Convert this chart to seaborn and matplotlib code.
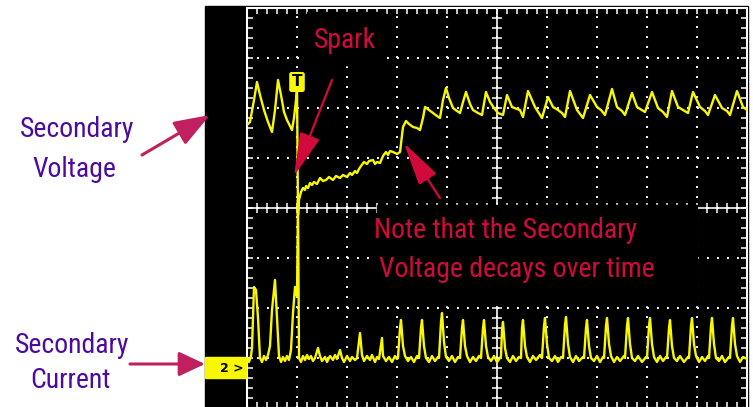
import numpy as np
import pandas as pd
import matplotlib
matplotlib.use('Agg')
import matplotlib.pyplot as plt
from matplotlib import font_manager
from matplotlib.patches import Rectangle
from matplotlib.ticker import MultipleLocator, NullFormatter
import seaborn as sns

# scope screen: 10 x 8 divisions, 50 counts per division
# (t, level) vertices
voltage_pts = [
    (0, 283), (3, 286), (7, 308), (10, 326), (13, 313), (17, 298), (21, 286), (25, 276),
    (28, 298), (31, 328), (34, 313), (37, 296), (40, 288), (43, 282), (45, 278), (47, 290),
    (49, 308), (50, 320), (51, 193), (52, 208), (54, 216), (56, 220), (58, 218), (59, 222),
    (61, 220), (63, 225), (65, 223), (67, 226), (70, 224), (73, 230), (76, 227), (79, 228),
    (82, 231), (86, 228), (89, 232), (93, 230), (96, 233), (100, 231), (103, 235), (105, 233),
    (108, 237), (110, 235), (112, 239), (114, 242), (117, 246), (120, 244), (122, 247),
    (126, 248), (128, 244), (130, 246), (133, 245), (136, 252), (139, 256), (141, 253),
    (143, 257), (146, 256), (150, 254), (153, 256), (156, 281), (159, 287), (162, 284),
    (166, 281), (170, 280), (173, 278), (176, 290), (178, 301), (182, 298), (186, 295),
    (190, 292), (193, 290), (196, 308), (199, 320), (202, 310), (206, 300), (210, 297),
    (213, 295), (216, 306), (219, 316), (223, 304), (226, 298), (231, 295), (235, 293),
    (239, 316), (243, 306), (247, 300), (251, 295), (256, 293), (260, 313), (265, 301),
    (270, 299), (273, 298), (276, 291), (281, 317), (288, 301), (295, 290), (301, 311),
    (306, 301), (311, 298), (315, 295), (318, 291), (323, 317), (330, 298), (336, 290),
    (343, 313), (350, 301), (354, 298), (358, 293), (365, 319), (370, 301), (375, 297),
    (378, 293), (385, 315), (390, 301), (398, 296), (405, 316), (411, 300), (416, 296),
    (420, 291), (425, 317), (431, 301), (436, 298), (441, 295), (446, 316), (453, 301),
    (458, 297), (461, 293), (468, 313), (475, 300), (480, 297), (483, 293), (490, 317),
    (496, 301), (500, 298),
]

current_pts = [
    (0, 50), (2, 46), (4, 52), (5, 60), (7, 121), (9, 118), (11, 90), (13, 50), (15, 46),
    (17, 52), (19, 48), (21, 53), (23, 62), (25, 98), (28, 128), (30, 90), (32, 52),
    (34, 46), (36, 51), (38, 47), (40, 52), (42, 48), (44, 58), (46, 95), (48, 121),
    (50, 112), (51, 208), (52, 50), (54, 46), (56, 52), (58, 48), (60, 53), (62, 49),
    (64, 52), (66, 47), (68, 50), (71, 60), (73, 52), (75, 47), (78, 51), (80, 46),
    (83, 52), (86, 48), (88, 53), (90, 49), (93, 58), (95, 50), (97, 46), (100, 52),
    (103, 47), (105, 51), (108, 48), (110, 50), (113, 75), (115, 53), (117, 47), (120, 52),
    (123, 48), (125, 53), (128, 46), (130, 51), (132, 49), (135, 70), (136, 52), (139, 47),
    (142, 51), (145, 46), (148, 52), (150, 49),
    (151, 50), (153, 80), (154, 88), (156, 62), (158, 52), (161, 47), (164, 51), (167, 46), (170, 52),
    (172, 50), (174, 80), (175, 88), (177, 62), (179, 50), (182, 46), (185, 52), (188, 47), (191, 51),
    (192, 50), (194, 86), (195, 95), (197, 66), (199, 51), (202, 47), (205, 52), (208, 46), (211, 51),
    (213, 50), (215, 80), (216, 88), (218, 62), (220, 52), (223, 46), (226, 51), (229, 47), (232, 52),
    (234, 50), (236, 80), (237, 88), (239, 62), (241, 51), (244, 47), (247, 52), (250, 46), (253, 50),
    (254, 52), (255, 78), (256, 86), (258, 60), (260, 50), (263, 46), (266, 52), (269, 47), (272, 51),
    (274, 50), (275, 80), (276, 88), (278, 62), (280, 51), (283, 46), (286, 52), (289, 48), (293, 53),
    (295, 50), (297, 82), (298, 90), (300, 64), (302, 50), (305, 47), (308, 52), (311, 46), (314, 51),
    (316, 50), (318, 83), (319, 91), (321, 64), (323, 51), (326, 46), (329, 52), (332, 47), (336, 51),
    (337, 50), (339, 80), (340, 88), (342, 62), (344, 50), (347, 47), (350, 52), (353, 46), (356, 51),
    (357, 50), (359, 82), (360, 90), (362, 64), (364, 52), (367, 46), (370, 51), (373, 47), (377, 52),
    (378, 50), (380, 82), (381, 90), (383, 64), (385, 50), (388, 47), (391, 52), (395, 46), (399, 51),
    (400, 50), (402, 82), (403, 90), (405, 64), (407, 51), (410, 46), (413, 52), (416, 47), (419, 51),
    (420, 50), (422, 80), (423, 88), (425, 62), (427, 50), (430, 47), (433, 52), (437, 46), (441, 51),
    (442, 50), (444, 82), (445, 90), (447, 64), (449, 52), (452, 46), (455, 51), (458, 47), (461, 52),
    (462, 50), (464, 82), (465, 90), (467, 64), (469, 50), (472, 47), (475, 52), (478, 46), (482, 51),
    (483, 50), (485, 82), (486, 90), (488, 64), (490, 52), (493, 46), (496, 51), (500, 49),
]

df_v = pd.DataFrame(voltage_pts, columns=['t', 'level'])
df_c = pd.DataFrame(current_pts, columns=['t', 'level'])

yellow = '#f8f800'
purple = '#4b0c9e'
red = '#d20a3c'
magenta = '#c0205f'

# the labels are in a narrow Arial-like face; take a condensed one if there is one
installed = {f.name for f in font_manager.fontManager.ttflist}
narrow = [n for n in ['Liberation Sans Narrow', 'Roboto Condensed', 'Open Sans Condensed',
                      'Arial Narrow'] if n in installed]
if narrow:
    lab_font = dict(family=[narrow[0], 'DejaVu Sans'], fontsize=20)
else:
    lab_font = dict(family=['Liberation Sans', 'DejaVu Sans'], fontsize=17.5)

W, H = 753, 407
fig = plt.figure(figsize=(W / 100, H / 100), dpi=100, facecolor='white')

# black scope screen
fig.add_artist(Rectangle((205 / W, 0), 543 / W, 401 / H, transform=fig.transFigure,
                         color='black', zorder=0))

pos = [247 / W, (H - 408) / H, 500 / W, 400 / H]

# grid + frame
ax = fig.add_axes(pos, zorder=1)
ax.set_facecolor('none')
ax.set_xlim(0, 500)
ax.set_ylim(0, 400)
ax.xaxis.set_major_locator(MultipleLocator(50))
ax.yaxis.set_major_locator(MultipleLocator(50))
ax.xaxis.set_minor_locator(MultipleLocator(10))
ax.yaxis.set_minor_locator(MultipleLocator(10))
for s in ax.spines.values():
    s.set_color('white')
    s.set_linewidth(1.5)
ax.tick_params(which='both', direction='in', length=4, width=1.1, color='white',
               top=True, right=True, labelleft=False, labelbottom=False)
ax.grid(which='major', color='white', lw=1.5, ls=(0, (0.9, 3.9)))

# centre cross with tick marks
cx = fig.add_axes(pos, zorder=2)
cx.set_facecolor('none')
cx.set_xlim(0, 500)
cx.set_ylim(0, 400)
cx.spines['top'].set_visible(False)
cx.spines['right'].set_visible(False)
cx.spines['left'].set_position(('data', 250))
cx.spines['bottom'].set_position(('data', 200))
for s in ('left', 'bottom'):
    cx.spines[s].set_color('white')
    cx.spines[s].set_linewidth(1.2)
cx.xaxis.set_major_locator(MultipleLocator(50))
cx.yaxis.set_major_locator(MultipleLocator(50))
cx.xaxis.set_minor_locator(MultipleLocator(10))
cx.yaxis.set_minor_locator(MultipleLocator(10))
cx.xaxis.set_major_formatter(NullFormatter())
cx.yaxis.set_major_formatter(NullFormatter())
cx.tick_params(which='both', direction='inout', length=7, width=1.1, color='white')

# black boxes behind the callout text
cx.add_patch(Rectangle((60, 343), 78, 53, color='black', zorder=3))
cx.add_patch(Rectangle((130, 103), 320, 100, color='black', zorder=3))

sns.lineplot(data=df_v, x='t', y='level', ax=cx, color=yellow, lw=1.7,
             estimator=None, sort=False, legend=False, zorder=4)
sns.lineplot(data=df_c, x='t', y='level', ax=cx, color=yellow, lw=1.7,
             estimator=None, sort=False, legend=False, zorder=4)
cx.set_xlabel('')
cx.set_ylabel('')

# trigger marker
cx.text(50, 326, 'T', ha='center', va='center', fontsize=11, fontweight='bold',
        color='black', zorder=5,
        bbox=dict(boxstyle='round,pad=0.12', fc=yellow, ec=yellow))

# overlay for labels and arrows, in screen pixels
ov = fig.add_axes([0, 0, 1, 1], zorder=5)
ov.set_xlim(0, W)
ov.set_ylim(H, 0)
ov.axis('off')

ov.add_patch(Rectangle((205, 357), 41, 21, color=yellow))
ov.text(232, 368, '2 >', ha='center', va='center', fontsize=9, fontweight='bold',
        color='black')

for x, y, s in [(77, 137, 'Secondary'), (74, 177, 'Voltage'),
                (72, 353, 'Secondary'), (70, 388, 'Current')]:
    ov.text(x, y, s, color=purple, ha='center', va='baseline', **lab_font)

for x, y, s in [(345, 48, 'Spark'), (506, 238, 'Note that the Secondary'),
                (517, 277, 'Voltage decays over time')]:
    ov.text(x, y, s, color=red, ha='center', va='baseline', **lab_font)


def arrow(tail, tip, color, hl, hw, lw):
    ov.annotate('', xy=tip, xytext=tail,
                arrowprops=dict(arrowstyle=f'-|>,head_length={hl},head_width={hw}',
                                mutation_scale=1, color=color, lw=lw,
                                shrinkA=0, shrinkB=0))


arrow((142, 155), (210, 115), magenta, 22, 8, 2.2)
arrow((130, 364), (205, 364), magenta, 16, 7.5, 2.2)
arrow((332, 80), (294, 176), red, 27, 6.5, 1.6)
arrow((440, 198), (404, 143), red, 27, 6.5, 1.6)

fig.savefig('out.png', dpi=100, facecolor='white')
